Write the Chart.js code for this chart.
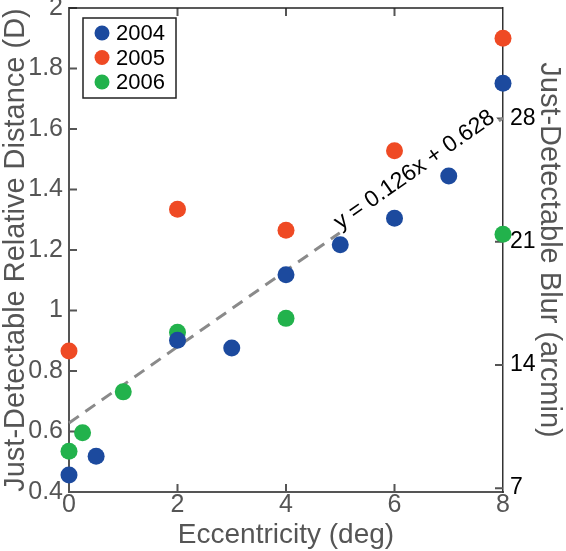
<!DOCTYPE html>
<html>
<head>
<meta charset="utf-8">
<script src="https://cdn.jsdelivr.net/npm/chart.js@4.4.1/dist/chart.umd.min.js"></script>
<style>
  html, body { margin: 0; padding: 0; background: #fff; }
  canvas { display: block; }
</style>
</head>
<body>
<canvas id="blurChart" width="566" height="551"></canvas>
<script>
// eccentricity (deg) vs just-detectable relative distance (D)
const ecc2004 = [0, 0.5, 2, 3, 4, 5, 6, 7, 8];
const dist2004 = [0.456, 0.518, 0.902, 0.876, 1.118, 1.217, 1.305, 1.445, 1.751];
const ecc2005 = [0, 2, 4, 6, 8];
const dist2005 = [0.866, 1.335, 1.265, 1.528, 1.9];
const ecc2006 = [0, 0.25, 1, 2, 4, 8];
const dist2006 = [0.535, 0.596, 0.731, 0.928, 0.974, 1.252];

// regression line endpoints + label
const fitX = [0, 8];
const fitY = [0.628, 1.636];
const fitLabel = "y = 0.126x + 0.628";

const seriesNames = ["2004", "2005", "2006"];
const seriesColors = ["#1c4a9e", "#ef4a24", "#22b24c"];

const xTicks = [0, 2, 4, 6, 8];
const yTicks = [0.4, 0.6, 0.8, 1, 1.2, 1.4, 1.6, 1.8, 2];
const blurTicks = [7, 14, 21, 28];
const blurRange = [6.78, 34.27];

const FONT = "'Liberation Sans', Arial, Helvetica, sans-serif";

function toPoints(xs, ys) {
  return xs.map((x, i) => ({ x: x, y: ys[i] }));
}

// ticks drawn inside the frame, plus the top frame line
const frameTicks = {
  id: "frameTicks",
  beforeDatasetsDraw(chart) {
    const { ctx, chartArea: a, scales } = chart;
    const len = 8;
    ctx.save();
    ctx.lineWidth = 2;
    ctx.strokeStyle = "#555";
    ctx.beginPath();
    xTicks.forEach((v) => {
      if (v === 0 || v === 8) return;
      const px = scales.x.getPixelForValue(v);
      ctx.moveTo(px, a.bottom);
      ctx.lineTo(px, a.bottom - len);
      ctx.moveTo(px, a.top);
      ctx.lineTo(px, a.top + len);
    });
    yTicks.forEach((v) => {
      const py = scales.y.getPixelForValue(v);
      ctx.moveTo(a.left, py);
      ctx.lineTo(a.left + len, py);
    });
    blurTicks.forEach((v) => {
      const py = scales.y2.getPixelForValue(v);
      ctx.moveTo(a.right, py);
      ctx.lineTo(a.right - len, py);
    });
    ctx.stroke();

    ctx.strokeStyle = "#222";
    ctx.lineWidth = 1.5;
    ctx.beginPath();
    ctx.moveTo(a.left, a.top);
    ctx.lineTo(a.right, a.top);
    ctx.stroke();
    ctx.restore();
  }
};

// equation written along the dashed fit line
const fitText = {
  id: "fitText",
  afterDatasetDraw(chart, args) {
    if (args.index !== 3) return;
    const { ctx, scales } = chart;
    const x0 = scales.x.getPixelForValue(fitX[0]);
    const y0 = scales.y.getPixelForValue(fitY[0]);
    const x1 = scales.x.getPixelForValue(fitX[1]);
    const y1 = scales.y.getPixelForValue(fitY[1]);
    const ang = Math.atan2(y1 - y0, x1 - x0);
    const t = 5.02 / 8;
    const sx = x0 + (x1 - x0) * t;
    const sy = y0 + (y1 - y0) * t;
    ctx.save();
    ctx.translate(sx, sy);
    ctx.rotate(ang);
    ctx.font = "23px " + FONT;
    const w = ctx.measureText(fitLabel).width;
    ctx.fillStyle = "#fff";
    ctx.fillRect(-2, -22, w + 4, 25);
    ctx.fillStyle = "#000";
    ctx.textBaseline = "alphabetic";
    ctx.fillText(fitLabel, 0, -2);
    ctx.restore();
  }
};

// boxed legend inside the plot
const boxLegend = {
  id: "boxLegend",
  afterDraw(chart) {
    const { ctx, chartArea: a } = chart;
    const bx = a.left + 14, by = a.top + 10, bw = 93, bh = 80;
    ctx.save();
    ctx.fillStyle = "#fff";
    ctx.fillRect(bx, by, bw, bh);
    ctx.strokeStyle = "#222";
    ctx.lineWidth = 1.5;
    ctx.strokeRect(bx, by, bw, bh);
    ctx.font = "22px " + FONT;
    ctx.textBaseline = "middle";
    seriesNames.forEach((name, i) => {
      const cy = by + 15 + i * 24.5;
      ctx.fillStyle = seriesColors[i];
      ctx.beginPath();
      ctx.arc(bx + 19, cy, 7.5, 0, Math.PI * 2);
      ctx.fill();
      ctx.fillStyle = "#000";
      ctx.fillText(name, bx + 33, cy + 1);
    });
    ctx.restore();
  }
};

function pointSet(label, xs, ys, color) {
  return {
    label: label,
    data: toPoints(xs, ys),
    backgroundColor: color,
    borderColor: color,
    pointRadius: 8.5,
    pointBorderWidth: 0,
    showLine: false,
    clip: false,
    order: 0
  };
}

const plainNum = (v) => String(Math.round(v * 10) / 10);

new Chart(document.getElementById("blurChart"), {
  type: "scatter",
  data: {
    datasets: [
      pointSet(seriesNames[0], ecc2004, dist2004, seriesColors[0]),
      pointSet(seriesNames[1], ecc2005, dist2005, seriesColors[1]),
      pointSet(seriesNames[2], ecc2006, dist2006, seriesColors[2]),
      {
        label: "fit",
        data: toPoints(fitX, fitY),
        showLine: true,
        borderColor: "#8a8a8a",
        borderWidth: 3,
        borderDash: [12, 8],
        pointRadius: 0,
        clip: false,
        order: 1
      }
    ]
  },
  options: {
    responsive: false,
    animation: false,
    devicePixelRatio: 1,
    layout: { autoPadding: false, padding: { top: 8, left: 0, right: 0, bottom: 0 } },
    plugins: { legend: { display: false }, tooltip: { enabled: false } },
    scales: {
      x: {
        type: "linear",
        position: "bottom",
        min: 0,
        max: 8,
        afterBuildTicks: (s) => { s.ticks = xTicks.map((v) => ({ value: v })); },
        afterFit: (s) => { s.height = 59; s.paddingLeft = 0; s.paddingRight = 0; },
        grid: { display: false, drawTicks: false },
        border: { display: true, color: "#555", width: 2 },
        ticks: { font: { family: FONT, size: 25, lineHeight: 1 }, color: "#555", padding: 1, maxRotation: 0, callback: plainNum },
        title: {
          display: true,
          text: "Eccentricity (deg)",
          color: "#555",
          font: { family: FONT, size: 28, lineHeight: 1 },
          padding: { top: 0, bottom: 2 }
        }
      },
      y: {
        type: "linear",
        position: "left",
        min: 0.4,
        max: 2,
        afterBuildTicks: (s) => { s.ticks = yTicks.map((v) => ({ value: v })); },
        afterFit: (s) => { s.width = 69; s.paddingTop = 0; s.paddingBottom = 0; },
        grid: { display: false, drawTicks: false },
        border: { display: true, color: "#555", width: 2 },
        ticks: { font: { family: FONT, size: 25, lineHeight: 1 }, color: "#555", padding: 6, callback: plainNum },
        title: {
          display: true,
          text: "Just-Detectable Relative Distance (D)",
          color: "#555",
          font: { family: FONT, size: 29, lineHeight: 1 },
          padding: { top: 1, bottom: 0 }
        }
      },
      y2: {
        type: "linear",
        position: "right",
        min: blurRange[0],
        max: blurRange[1],
        afterBuildTicks: (s) => { s.ticks = blurTicks.map((v) => ({ value: v })); },
        afterFit: (s) => { s.width = 63; s.paddingTop = 0; s.paddingBottom = 0; },
        grid: { display: false, drawTicks: false },
        border: { display: true, color: "#333", width: 1.5 },
        ticks: { font: { family: FONT, size: 23, lineHeight: 1 }, color: "#000", padding: 7 },
        title: {
          display: true,
          text: "Just-Detectable Blur (arcmin)",
          color: "#555",
          font: { family: FONT, size: 29, lineHeight: 1 },
          padding: { top: 3, bottom: 0 }
        }
      }
    }
  },
  plugins: [frameTicks, fitText, boxLegend]
});
</script>
</body>
</html>
